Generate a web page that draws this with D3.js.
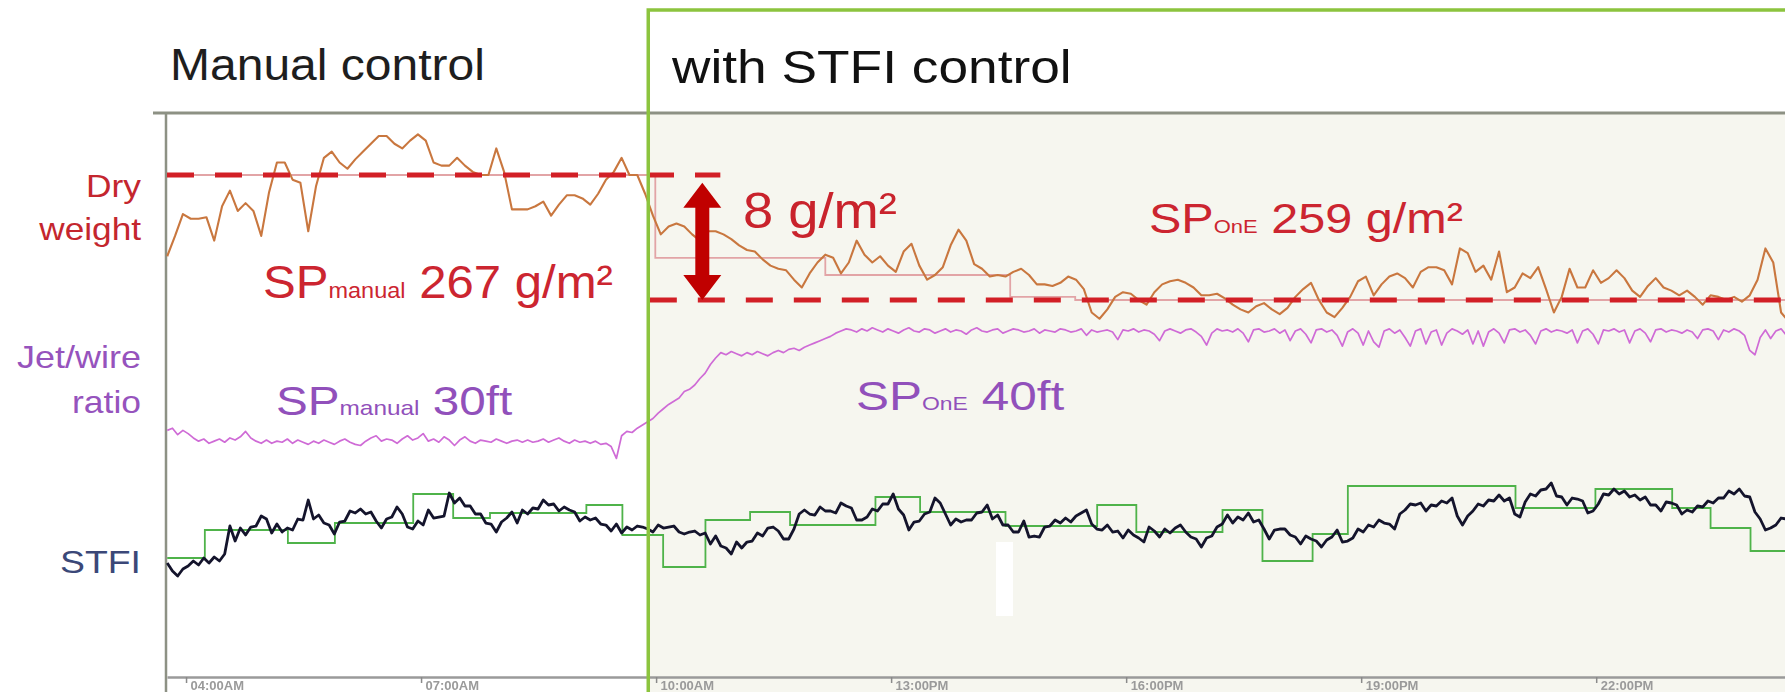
<!DOCTYPE html>
<html><head><meta charset="utf-8">
<script src="https://cdn.jsdelivr.net/npm/d3@7"></script>
<style>
html,body{margin:0;padding:0;background:#fff;}
svg{display:block;}
text{font-family:"Liberation Sans",Arial,Helvetica,sans-serif;}
</style></head><body>
<svg id="chart" width="1785" height="692"></svg>
<script>
// ---------------- DATA ----------------
// time in hours of the day
const startHour = 3.76;
const dryStep = 0.1;        // 6-minute samples
const fineStep = 1 / 15;    // 4-minute samples
const controlStart = 9.90;  // STFI control switched on

// Dry weight, g/m2 (6-min samples)
const dryWeight = [
 261.8,263.1,264.5,264.2,264.2,264.3,262.8,265.0,266.0,264.7,
 265.2,264.7,263.1,265.9,267.8,267.8,266.7,266.5,263.4,266.3,
 268.1,268.5,267.8,267.4,268.0,268.5,269.0,269.5,269.5,269.0,
 268.7,269.2,269.6,269.2,267.8,267.6,267.6,268.1,267.6,267.2,
 267.0,267.0,268.7,267.2,264.8,264.8,264.8,265.0,265.3,264.4,
 265.1,265.7,265.7,265.5,265.1,265.8,266.7,267.2,268.1,267.0,
 267.0,265.8,264.4,263.2,263.7,263.9,263.7,263.2,262.8,263.4,
 263.4,263.2,262.9,262.5,262.2,262.1,261.6,261.2,261.0,260.9,
 260.3,259.8,260.7,261.4,261.9,261.7,260.7,261.4,262.8,261.9,
 261.4,261.8,261.2,260.8,262.1,262.6,261.2,260.3,260.6,261.1,
 262.5,263.5,262.8,261.3,261.0,260.5,260.6,260.5,260.8,261.0,
 260.6,260.0,260.0,259.9,260.1,260.5,260.3,259.7,258.2,257.8,
 258.4,259.2,259.5,259.4,259.0,258.7,259.5,260.0,260.2,260.3,
 260.1,259.8,259.3,259.3,259.4,259.1,258.7,258.4,258.2,258.6,
 258.8,258.4,258.1,258.5,259.2,259.7,260.1,259.0,258.2,257.9,
 258.5,259.2,260.2,260.5,259.3,260.0,260.5,260.7,260.4,259.8,
 260.8,261.1,261.1,260.9,260.0,262.3,262.0,260.8,261.2,260.3,
 262.1,259.5,259.8,260.7,260.4,261.1,259.7,258.2,259.2,261.0,
 259.8,259.8,260.9,260.1,260.4,260.9,260.4,259.6,259.2,259.9,
 260.4,259.8,259.6,259.3,259.6,259.2,258.7,259.3,259.2,259.0,
 259.2,258.9,259.3,260.3,262.3,261.4,258.2,257.6
];

// Dry weight set point trace, g/m2 (step changes)
const drySpTimes  = [3.76, 9.99, 12.16, 14.52, 15.35, 24.41];
const drySpValues = [267.0, 261.7, 260.6, 259.2, 259.0, 259.0];

// Reference set points drawn as dashed lines
const spManual = 267, spOnE = 259;
const spManualSpan = [3.757, 10.82];
const spOnESpan = [9.92, 24.41];
const arrowTime = 10.59;

// Jet/wire ratio, ft (4-min samples)
const jetWire = [
 30.8,31.0,30.4,30.8,30.5,30.1,29.8,30.0,29.6,29.8,
 30.0,29.7,30.1,29.9,30.2,30.7,30.1,29.8,29.6,29.9,
 29.6,29.8,29.7,30.0,29.6,29.9,29.7,29.5,29.8,29.6,
 29.9,29.7,29.5,29.8,30.0,29.7,29.5,29.4,29.8,30.1,
 30.3,29.8,30.0,29.9,29.6,30.0,30.3,29.9,30.1,30.5,
 29.8,30.0,29.7,30.2,29.9,29.4,29.9,30.2,29.8,29.6,
 29.9,29.8,29.7,30.0,29.8,29.6,29.8,29.9,29.7,29.9,
 29.7,29.8,30.0,29.7,29.9,30.1,29.8,29.6,29.9,29.7,
 29.8,29.6,29.8,29.5,29.6,29.3,28.2,30.3,30.7,30.6,
 31.0,31.3,31.6,31.9,32.4,32.8,33.2,33.5,33.8,34.4,
 34.6,35.0,35.6,36.1,36.9,37.5,38.0,37.8,38.1,37.9,
 37.7,38.0,37.8,38.1,37.9,37.7,38.0,38.2,38.0,38.3,
 38.4,38.2,38.5,38.7,38.9,39.1,39.3,39.5,39.8,40.0,
 40.2,40.1,39.9,40.2,40.0,40.3,40.1,39.9,40.2,40.0,
 39.8,40.1,40.3,40.0,39.9,40.2,40.1,39.8,40.0,40.2,
 39.9,40.1,40.0,39.7,40.1,40.3,40.0,39.9,40.1,40.2,
 39.8,40.0,40.2,40.1,39.9,40.0,40.2,39.8,40.1,40.0,
 39.9,40.2,40.1,39.9,40.0,40.2,39.6,40.1,39.9,40.0,
 40.1,39.9,39.2,40.1,40.0,40.2,39.9,40.1,40.0,39.7,
 39.1,40.0,40.2,40.0,39.8,40.1,40.2,39.9,39.5,38.7,
 39.8,40.2,40.0,40.1,39.9,40.2,39.8,39.0,40.1,40.2,
 39.9,40.0,40.2,39.8,40.1,39.1,40.0,40.2,39.7,38.9,
 40.1,40.2,39.9,40.1,39.6,38.6,39.9,40.2,39.8,38.7,
 40.0,39.0,38.5,40.0,40.2,39.8,40.1,39.4,38.6,40.0,
 40.2,38.8,39.9,40.1,38.7,39.8,40.2,40.0,39.7,40.1,
 38.8,40.0,38.6,39.9,40.2,39.8,38.9,40.1,40.2,39.9,
 40.1,39.6,38.8,40.0,40.2,39.9,40.1,40.0,39.8,40.1,
 38.9,40.0,40.2,39.7,38.8,40.1,40.0,40.2,39.9,40.1,
 38.9,40.0,40.2,39.8,39.0,40.1,40.2,39.9,40.1,40.0,
 39.8,40.1,39.9,39.3,40.1,40.2,40.0,39.2,40.1,39.9,
 40.2,40.0,39.6,38.2,37.8,39.4,40.1,39.3,40.0,40.2,
 39.6
];

// STFI index (4-min samples)
const stfi = [
 18.85,18.45,18.20,18.55,18.70,18.95,18.75,19.10,18.85,19.15,
 18.95,19.30,20.70,19.95,20.60,20.25,20.65,20.70,21.20,21.05,
 20.35,20.80,20.40,20.60,20.50,21.05,21.00,22.00,21.05,21.25,
 20.85,20.75,20.30,20.90,20.95,21.45,21.35,21.55,21.30,21.40,
 20.95,20.60,21.05,21.15,21.65,21.30,20.65,20.55,20.95,20.75,
 21.50,21.10,21.15,21.20,22.35,21.85,22.10,21.70,21.70,21.30,
 21.30,20.85,20.80,20.40,20.90,21.10,21.40,20.85,21.50,21.30,
 21.60,21.55,22.00,21.75,21.80,21.45,21.65,21.50,21.40,20.95,
 21.15,21.00,21.10,20.80,20.75,20.45,20.80,20.35,20.65,20.50,
 20.70,20.65,20.55,20.40,20.75,20.60,20.65,20.70,20.40,20.30,
 20.40,20.45,20.25,20.35,19.80,20.20,19.70,19.60,19.30,19.90,
 19.60,19.90,19.95,20.35,20.20,20.60,20.65,20.45,20.05,20.05,
 20.55,21.30,21.50,21.30,21.25,21.65,21.45,21.45,21.35,21.85,
 21.70,21.60,21.00,21.00,21.15,21.55,21.45,21.80,21.80,22.30,
 21.55,21.25,20.50,20.90,20.95,21.30,21.40,22.10,21.85,21.30,
 20.75,21.05,20.90,21.00,21.00,21.35,21.40,21.75,21.05,21.25,
 20.75,20.75,20.40,20.40,20.95,20.15,20.20,20.15,20.65,20.70,
 21.00,20.85,21.10,20.90,21.20,21.35,21.50,20.80,20.55,20.50,
 20.75,20.40,20.45,20.10,20.50,20.25,20.10,19.90,20.65,20.45,
 20.15,20.55,20.35,20.60,20.75,20.40,20.15,20.05,19.65,20.10,
 20.20,20.65,20.80,21.25,20.85,21.15,21.00,21.35,20.90,21.00,
 20.55,20.05,20.50,20.55,20.55,20.25,20.15,19.80,20.20,20.05,
 19.95,19.65,20.00,20.15,20.50,19.90,19.95,20.10,20.55,20.40,
 20.75,20.65,21.00,20.85,20.80,20.55,21.30,21.50,21.80,21.75,
 21.85,21.45,21.75,21.70,21.95,21.85,22.10,21.20,20.75,21.20,
 21.45,21.80,21.70,22.00,21.95,22.25,21.95,22.10,21.30,21.15,
 21.90,22.30,22.20,22.50,22.55,22.85,22.20,22.15,21.75,22.10,
 22.05,21.95,21.35,21.45,21.80,22.30,22.25,22.55,22.30,22.45,
 22.15,22.25,22.00,22.15,21.75,21.75,21.45,21.90,21.85,21.75,
 21.30,21.50,21.40,21.70,21.65,21.95,21.85,22.10,22.10,22.45,
 22.30,22.55,22.20,22.15,21.40,21.05,20.50,20.60,20.75,21.10,
 21.05
];

// STFI set point (step changes)
const stfiSpTimes  = [3.76,4.24,5.30,5.90,6.90,7.41,7.88,9.11,9.57,10.09,10.63,11.20,11.71,12.80,13.37,14.46,15.63,16.13,17.23,17.74,18.38,18.83,20.97,21.99,22.97,23.46,23.97,24.41];
const stfiSpValues = [19.10,20.50,19.85,20.85,22.30,21.10,21.35,21.75,20.25,18.65,21.00,21.40,20.75,22.15,21.40,20.70,21.75,20.40,21.50,18.95,20.30,22.70,21.60,22.55,21.60,20.60,19.45,19.45];

// Time axis
const tickHours  = [4, 7, 10, 13, 16, 19, 22];
const tickLabels = ["04:00AM","07:00AM","10:00AM","13:00PM","16:00PM","19:00PM","22:00PM"];

// Labels
const rowLabels = [
  {lines:["Dry","weight"], color:"#c4262e"},
  {lines:["Jet/wire","ratio"], color:"#9653bd"},
  {lines:["STFI"], color:"#3b4878"}
];

// ---------------- CHART ----------------
const W = 1785, H = 692;
const svg = d3.select("#chart");

const x = d3.scaleLinear().domain([3.757, 24.41]).range([167, 1785]);
const yDry  = d3.scaleLinear().domain([259, 267]).range([300, 175]);
const yJet  = d3.scaleLinear().domain([30, 40]).range([439, 331]);
const ySTFI = d3.scaleLinear().domain([20, 22]).range([540, 500]);

const headerY = 113, axisY = 677, frameTop = 10;

const defs = svg.append("defs");
defs.append("filter").attr("id", "soft").append("feGaussianBlur").attr("stdDeviation", 0.6);

svg.append("rect").attr("width", W).attr("height", H).attr("fill", "#fff");
// light background of the controlled period
svg.append("rect").attr("x", x(controlStart)).attr("y", headerY)
  .attr("width", W - x(controlStart) + 10).attr("height", H - headerY).attr("fill", "#f6f6ef");

// header separator and left axis
svg.append("line").attr("x1", 153).attr("x2", W).attr("y1", headerY).attr("y2", headerY)
  .attr("stroke", "#8d9184").attr("stroke-width", 3);
svg.append("line").attr("x1", 166).attr("x2", 166).attr("y1", headerY).attr("y2", H)
  .attr("stroke", "#8d9184").attr("stroke-width", 2.5);

// white smudge in the original screenshot
svg.append("rect").attr("x", 996).attr("y", 542).attr("width", 17).attr("height", 74).attr("fill", "#ffffff");

// bottom time axis
const axis = d3.axisBottom(x).tickValues(tickHours)
  .tickFormat((d, i) => tickLabels[i]).tickSize(6).tickSizeOuter(0);
const gAx = svg.append("g").attr("transform", `translate(0,${axisY})`).call(axis);
gAx.select(".domain").attr("stroke", "#9a9a9a").attr("stroke-width", 2.5);
gAx.selectAll(".tick line").attr("stroke", "#8a8a8a").attr("stroke-width", 1.5);
gAx.selectAll(".tick text").attr("text-anchor", "start").attr("x", 4).attr("y", 13).attr("dy", null)
  .attr("font-size", 13).attr("font-weight", "bold").attr("fill", "#9a9a9a")
  .attr("filter", "url(#soft)")
  .style("font-family", '"Liberation Sans",Arial,sans-serif');

// STFI set point (green steps)
const stfiSp = stfiSpTimes.map((t, i) => ({t, v: stfiSpValues[i]}));
svg.append("path").datum(stfiSp)
  .attr("d", d3.line().x(d => x(d.t)).y(d => ySTFI(d.v)).curve(d3.curveStepAfter))
  .attr("fill", "none").attr("stroke", "#4fb34a").attr("stroke-width", 1.8);

// STFI measured
const stfiData = stfi.map((v, i) => ({t: startHour + i * fineStep, v}));
svg.append("path").datum(stfiData)
  .attr("d", d3.line().x(d => x(d.t)).y(d => ySTFI(d.v)))
  .attr("fill", "none").attr("stroke", "#14142c").attr("stroke-width", 2.8).attr("stroke-linejoin", "round");

// Jet/wire ratio
const jetData = jetWire.map((v, i) => ({t: startHour + i * fineStep, v}));
svg.append("path").datum(jetData)
  .attr("d", d3.line().x(d => x(d.t)).y(d => yJet(d.v)))
  .attr("fill", "none").attr("stroke", "#cf6bd6").attr("stroke-width", 1.7).attr("stroke-linejoin", "round");

// Dry weight set point trace
const drySp = drySpTimes.map((t, i) => ({t, v: drySpValues[i]}));
svg.append("path").datum(drySp)
  .attr("d", d3.line().x(d => x(d.t)).y(d => yDry(d.v)).curve(d3.curveStepAfter))
  .attr("fill", "none").attr("stroke", "#e2a4a6").attr("stroke-width", 1.8);

// Dry weight measured
const dryData = dryWeight.map((v, i) => ({t: startHour + i * dryStep, v}));
svg.append("path").datum(dryData)
  .attr("d", d3.line().x(d => x(d.t)).y(d => yDry(d.v)))
  .attr("fill", "none").attr("stroke", "#c9773f").attr("stroke-width", 2.1).attr("stroke-linejoin", "round");

// dashed set point lines
[[spManual, spManualSpan], [spOnE, spOnESpan]].forEach(([v, span]) => {
  svg.append("line").attr("x1", x(span[0])).attr("x2", x(span[1]))
    .attr("y1", yDry(v)).attr("y2", yDry(v))
    .attr("stroke", "#d21f26").attr("stroke-width", 5).attr("stroke-dasharray", "27,21");
});

// double arrow between set points
(function () {
  const cx = x(arrowTime), y1 = yDry(spManual - 0.5), y2 = yDry(spOnE);
  const hw = 19, hl = 25, sw = 7;
  const pts = [[cx, y1], [cx + hw, y1 + hl], [cx + sw, y1 + hl], [cx + sw, y2 - hl], [cx + hw, y2 - hl],
               [cx, y2], [cx - hw, y2 - hl], [cx - sw, y2 - hl], [cx - sw, y1 + hl], [cx - hw, y1 + hl]];
  svg.append("polygon").attr("points", pts.map(p => p.join(",")).join(" ")).attr("fill", "#c00000");
})();

// text helper: horizontally fit text to measured width of the original
function fit(sel, width) {
  const w = sel.node().getBBox().width;
  const x0 = +sel.attr("x");
  const s = width / w;
  sel.attr("transform", `translate(${x0 * (1 - s)},0) scale(${s},1)`);
  return sel;
}
function rich(x0, y0, parts, color, anchor) {
  const t = svg.append("text").attr("x", x0).attr("y", y0).attr("fill", color)
    .attr("text-anchor", anchor || "start");
  parts.forEach(p => t.append("tspan").attr("font-size", p.size).text(p.text));
  return t;
}

// header titles
fit(rich(170, 80, [{text: "Manual control", size: 44}], "#1e1e1e"), 315);
fit(rich(672, 83, [{text: "with STFI control", size: 46}], "#111"), 401);

// row labels
const labelPos = [[197, 240], [368, 413], [573]];
const labelW = [[55, 103], [124, 69], [81]];
rowLabels.forEach((r, k) => {
  r.lines.forEach((ln, j) => {
    fit(rich(141, labelPos[k][j], [{text: ln, size: 32}], r.color, "end"), labelW[k][j]);
  });
});

// annotations
fit(rich(263, 298, [{text: "SP", size: 46}, {text: "manual", size: 22}, {text: " " + spManual + " g/m²", size: 46}], "#cc2530"), 350);
fit(rich(743, 228, [{text: (spManual - spOnE) + " g/m²", size: 50}], "#c9232c"), 154);
fit(rich(1149, 233, [{text: "SP", size: 42}, {text: "OnE", size: 19}, {text: " " + spOnE + " g/m²", size: 42}], "#cc2530"), 314);
fit(rich(276, 415, [{text: "SP", size: 41}, {text: "manual", size: 21}, {text: " 30ft", size: 41}], "#9150bb"), 237);
fit(rich(856, 410, [{text: "SP", size: 41}, {text: "OnE", size: 19}, {text: " 40ft", size: 41}], "#9150bb"), 209);

// green frame of the controlled period
svg.append("rect").attr("x", x(controlStart)).attr("y", frameTop)
  .attr("width", W - x(controlStart) + 20).attr("height", H).attr("fill", "none")
  .attr("stroke", "#8cc43e").attr("stroke-width", 3.5);
</script></body></html>
